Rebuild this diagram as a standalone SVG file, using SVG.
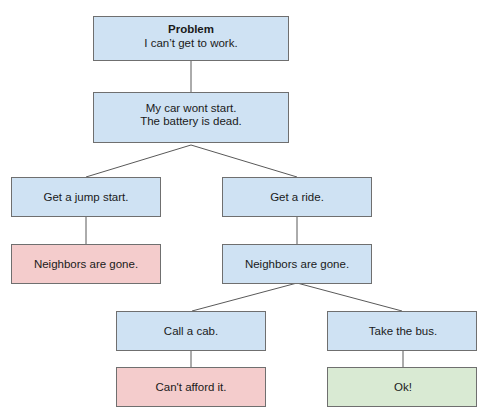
<svg xmlns="http://www.w3.org/2000/svg" width="490" height="420" viewBox="0 0 490 420">
<style>
.box{stroke:#6f6f6f;stroke-width:1}
.blue{fill:#cfe2f3}
.pink{fill:#f4cccc}
.green{fill:#d9ead3}
text{font-family:"Liberation Sans",Arial,sans-serif;font-size:11.5px;fill:#1a1a1a;text-anchor:middle}
.b{font-weight:bold}
#connectors line{stroke:#595959;stroke-width:1}
</style>
<rect width="490" height="420" fill="#ffffff"/>
<g id="connectors">
<line x1="191" y1="61" x2="191" y2="92"/>
<line x1="191" y1="145" x2="86" y2="177"/>
<line x1="191" y1="145" x2="297" y2="177"/>
<line x1="86" y1="216" x2="86" y2="244"/>
<line x1="297" y1="216" x2="297" y2="244"/>
<line x1="297" y1="283" x2="192" y2="311"/>
<line x1="297" y1="283" x2="402" y2="311"/>
<line x1="191" y1="350" x2="191" y2="367"/>
<line x1="403" y1="350" x2="403" y2="367"/>
</g>
<g id="problem">
<rect class="box blue" x="93.5" y="16.5" width="195" height="44"/>
<text x="191" y="33" class="b">Problem</text>
<text x="191" y="47">I can’t get to work.</text>
</g>
<g id="battery">
<rect class="box blue" x="93.5" y="92.5" width="195" height="50"/>
<text x="191" y="111.5">My car wont start.</text>
<text x="191" y="125">The battery is dead.</text>
</g>
<g id="jump">
<rect class="box blue" x="11.5" y="177.5" width="149" height="39"/>
<text x="86" y="201">Get a jump start.</text>
</g>
<g id="ride">
<rect class="box blue" x="222.5" y="177.5" width="149" height="39"/>
<text x="297" y="201">Get a ride.</text>
</g>
<g id="neighbors1">
<rect class="box pink" x="11.5" y="244.5" width="149" height="39"/>
<text x="86" y="268">Neighbors are gone.</text>
</g>
<g id="neighbors2">
<rect class="box blue" x="222.5" y="244.5" width="149" height="39"/>
<text x="297" y="268">Neighbors are gone.</text>
</g>
<g id="cab">
<rect class="box blue" x="116.5" y="311.5" width="149" height="39"/>
<text x="191" y="335">Call a cab.</text>
</g>
<g id="bus">
<rect class="box blue" x="327.5" y="311.5" width="149" height="39"/>
<text x="403" y="335">Take the bus.</text>
</g>
<g id="afford">
<rect class="box pink" x="116.5" y="367.5" width="149" height="39"/>
<text x="191" y="391">Can't afford it.</text>
</g>
<g id="ok">
<rect class="box green" x="327.5" y="367.5" width="149" height="39"/>
<text x="403" y="391">Ok!</text>
</g>
</svg>
